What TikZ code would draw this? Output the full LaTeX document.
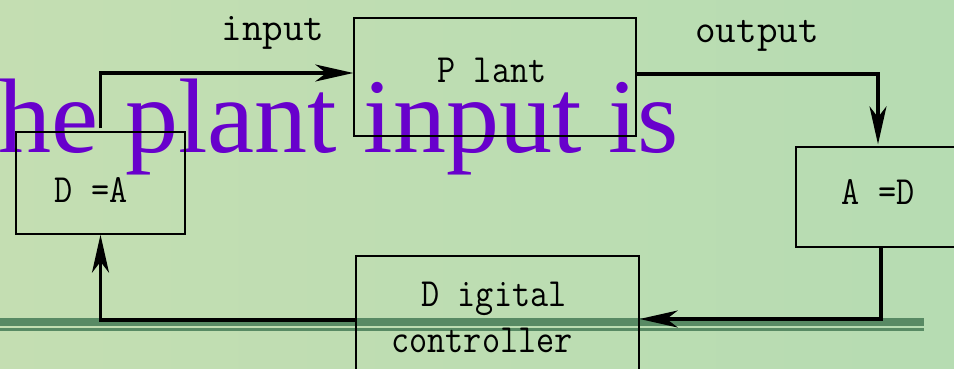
\documentclass[tikz,border=0pt]{standalone}
\usepackage{fontspec}
\newfontfamily\timesf{Liberation Serif}
\usetikzlibrary{arrows.meta}
\definecolor{bgA}{RGB}{196,222,178}
\definecolor{bgB}{RGB}{182,220,178}
\definecolor{barG}{RGB}{88,138,100}
\definecolor{purp}{RGB}{104,0,204}
\newcommand{\lbl}[2]{\scalebox{#1}[1]{\fontsize{40}{42}\selectfont\ttfamily #2}}
\tikzset{
  boxn/.style={draw=black, line width=1.4pt, rectangle, inner sep=0pt},
  conn/.style={draw=black, line width=3.2pt, -{Stealth[length=38pt,width=17pt,inset=11pt]}},
  txt/.style={anchor=base, inner sep=0pt}
}
\begin{document}
\begin{tikzpicture}[x=1pt,y=-1pt]
\useasboundingbox (0,0) rectangle (954,369);
\shade[left color=bgA, right color=bgB] (0,0) rectangle (954,369);
% green rule
\fill[barG] (0,318) rectangle (924,326);
\fill[barG] (0,328) rectangle (924,330.5);
% purple title fragment
\node[anchor=base east, inner sep=0pt, text=purp, font=\timesf\fontsize{106}{110}\selectfont] (title) at (679,152) {he plant input is};
% boxes
\node[boxn, minimum width=282pt, minimum height=118pt] (plant) at (495,77) {};
\node[boxn, minimum width=169pt, minimum height=102pt] (da) at (100.5,183) {};
\node[boxn, minimum width=174pt, minimum height=100pt] (ad) at (883,197) {};
\node[boxn, minimum width=283pt, minimum height=134pt] (dc) at (497.5,323) {};
% connectors
\draw[conn] ([yshift=3pt]da.north) |- ([yshift=4pt]plant.west);
\draw[conn] ([yshift=3pt]plant.east) -| ([xshift=-5pt,yshift=2pt]ad.north);
\draw[conn] ([xshift=-2pt]ad.south) |- ([yshift=4pt]dc.east);
\draw[conn] ([yshift=3pt]dc.west) -| (da.south);
% labels
\node[txt] (lin) at (273,41) {\lbl{1.0}{input}};
\node[txt] (lout) at (757,43) {\lbl{1.0}{output}};
\node[txt] (lplant) at (492,83) {\lbl{0.88}{P lant}};
\node[txt] (lda) at (91,202) {\lbl{0.88}{D =A}};
\node[txt] (lad) at (878,204) {\lbl{0.88}{A =D}};
\node[txt] (ldig) at (494,306) {\lbl{0.88}{D igital}};
\node[txt] (lctl) at (482,352) {\lbl{0.88}{controller}};
\end{tikzpicture}
\end{document}
